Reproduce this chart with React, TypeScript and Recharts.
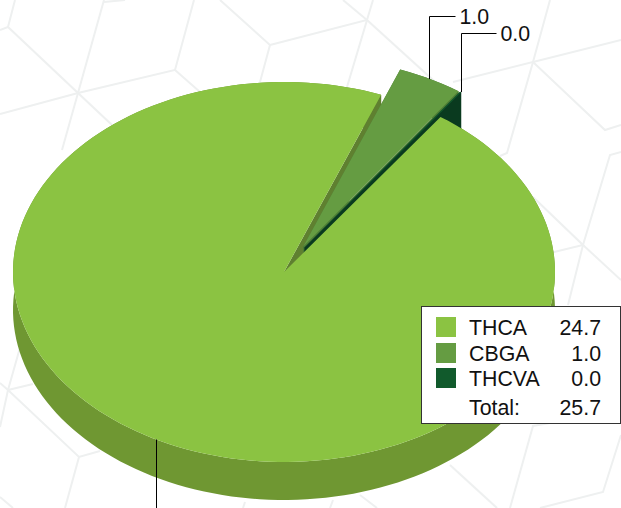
import { PieChart, Pie, Legend } from "recharts";

const categories = ["THCA", "CBGA", "THCVA"];
const values = [24.7, 1.0, 0.02];
const topColors = ["#8bc342", "#659c42", "#115a2c"];
const sideColors = ["#6f9732", "#4b7a35", "#0a3a1f"];
const cutColors = ["#5f8030", "#4b7a35", "#0a3a1f"];
const leaderTops = [560, 16, 33];
const leaderRuns = [0, 26, 35];
const leaderNudges = [0, -1, 0];

// slices run clockwise from the gap, so the big one is drawn last and sits on top
const drawOrder = [1, 2, 0];
const pieData = drawOrder.map((i) => ({
  name: categories[i],
  value: values[i],
  top: topColors[i],
  side: sideColors[i],
  cut: cutColors[i],
  leaderTop: leaderTops[i],
  leaderRun: leaderRuns[i],
  leaderNudge: leaderNudges[i],
}));

const total = values.reduce((a, b) => a + b, 0);

const WIDTH = 621;
const HEIGHT = 508;
const CX = 284;
const CY = 272;
const RX = 271;
const TILT = 0.701;
const DEPTH = 38;
const EXPLODE = 0.15;
const START = 69;
const EXPLODE_ANGLE = START - 7;
const EXPLODE_SPREAD = 0.35;
const FONT = "'Liberation Sans', Arial, sans-serif";
const FONT_SIZE = 21.33;

const RAD = Math.PI / 180;

// faint hex pattern behind the chart
const bgLines = [
  "M15 0L8 27L0 30",
  "M8 27L78 93L112 125",
  "M104 0L78 93L62 150",
  "M104 2L125 0",
  "M0 114L78 93L175 70L194 0",
  "M175 70L200 92",
  "M220 0L270 45L260 82",
  "M270 45L367 20L373 0",
  "M343 0L367 20L347 87",
  "M367 20L455 100",
  "M453 82L533 62L550 0",
  "M533 62L621 40",
  "M533 62L507 153L500 156",
  "M533 62L605 130L621 125",
  "M621 152L610 155L583 245L568 305",
  "M583 245L621 280",
  "M550 253L583 245L533 197",
  "M0 383L8 390L79 457L100 451",
  "M25 330L8 390L0 427",
  "M8 390L33 384",
  "M79 457L65 508",
  "M0 497L13 508",
  "M450 465L497 508",
  "M550 423L533 426L510 508",
  "M621 435L603 492L540 508",
  "M360 495L377 508",
  "M330 508L333 500",
  "M243 508L245 502",
];

function rimPoint(cx: number, cy: number, r: number, deg: number) {
  return { x: cx + r * Math.cos(deg * RAD), y: cy - r * TILT * Math.sin(deg * RAD) };
}

// the two small slices are pulled out nearly together, the big one stays put
function explodedCentre(props: any) {
  const { cx, cy, outerRadius, startAngle, endAngle } = props;
  if (Math.abs(endAngle - startAngle) > 180) return { x: cx, y: cy };
  const mid = (startAngle + endAngle) / 2;
  const angle = EXPLODE_ANGLE + (mid - EXPLODE_ANGLE) * EXPLODE_SPREAD;
  return {
    x: cx + outerRadius * EXPLODE * Math.cos(angle * RAD),
    y: cy - outerRadius * TILT * EXPLODE * Math.sin(angle * RAD),
  };
}

function arcPath(cx: number, cy: number, r: number, from: number, to: number) {
  const steps = Math.max(2, Math.ceil(Math.abs(to - from) / 2));
  let d = "";
  for (let i = 0; i <= steps; i++) {
    const p = rimPoint(cx, cy, r, from + ((to - from) * i) / steps);
    d += `${i === 0 ? "M" : "L"}${p.x.toFixed(2)} ${p.y.toFixed(2)}`;
  }
  return d;
}

function Walls(props: any) {
  const { outerRadius: r, startAngle, endAngle, payload } = props;
  const c = explodedCentre(props);
  const a = rimPoint(c.x, c.y, r, startAngle);
  const b = rimPoint(c.x, c.y, r, endAngle);
  const face = (p: { x: number; y: number }) =>
    `M${c.x} ${c.y}L${p.x} ${p.y}L${p.x} ${p.y + DEPTH}L${c.x} ${c.y + DEPTH}Z`;
  const rimTop = arcPath(c.x, c.y, r, startAngle, endAngle);
  const rimBottom = arcPath(c.x, c.y + DEPTH, r, endAngle, startAngle).replace("M", "L");
  return (
    <g>
      <path d={rimTop + rimBottom + "Z"} fill={payload.side} />
      <path d={face(a)} fill={payload.cut} />
      <path d={face(b)} fill={payload.cut} />
    </g>
  );
}

function TopFace(props: any) {
  const { outerRadius: r, startAngle, endAngle, payload } = props;
  const c = explodedCentre(props);
  return (
    <path
      d={`M${c.x} ${c.y}` + arcPath(c.x, c.y, r, startAngle, endAngle).replace("M", "L") + "Z"}
      fill={payload.top}
    />
  );
}

// the big slice's walls go under everything, its top goes over everything
function backShape(props: any) {
  return Math.abs(props.endAngle - props.startAngle) > 180 ? <Walls {...props} /> : <g />;
}

function frontShape(props: any) {
  if (Math.abs(props.endAngle - props.startAngle) > 180) return <TopFace {...props} />;
  return (
    <g>
      <Walls {...props} />
      <TopFace {...props} />
    </g>
  );
}

function renderLeader(props: any) {
  const { outerRadius: r, startAngle, endAngle, payload } = props;
  const c = explodedCentre(props);
  const p = rimPoint(c.x, c.y, r, (startAngle + endAngle) / 2);
  const run = payload.leaderRun;
  const x = Math.round(p.x) + payload.leaderNudge + 0.5;
  if (!run) {
    return <path d={`M${x} ${p.y}V${payload.leaderTop}`} stroke="#000" fill="none" />;
  }
  return (
    <g>
      <path
        d={`M${x} ${p.y}V${payload.leaderTop + 0.5}H${x + run}`}
        stroke="#000"
        fill="none"
      />
      <text
        x={x + run + 4}
        y={payload.leaderTop + 8}
        fontFamily={FONT}
        fontSize={FONT_SIZE}
        fill="#111"
      >
        {payload.value.toFixed(1)}
      </text>
    </g>
  );
}

function LegendBox() {
  const rowTops = [9, 35, 60, 89];
  const text = { position: "absolute" as const, lineHeight: "24px", color: "#111" };
  return (
    <div
      style={{
        position: "relative",
        width: 198,
        height: 116,
        background: "#fff",
        border: "1px solid #333",
        fontFamily: FONT,
        fontSize: FONT_SIZE,
      }}
    >
      {categories.map((name, i) => (
        <div key={name}>
          <div
            style={{
              position: "absolute",
              left: 14,
              top: rowTops[i] + 1,
              width: 20,
              height: 20,
              background: topColors[i],
            }}
          />
          <span style={{ ...text, left: 47, top: rowTops[i] }}>{name}</span>
          <span style={{ ...text, right: 19, top: rowTops[i] }}>{values[i].toFixed(1)}</span>
        </div>
      ))}
      <span style={{ ...text, left: 47, top: rowTops[3] }}>Total:</span>
      <span style={{ ...text, right: 19, top: rowTops[3] }}>{total.toFixed(1)}</span>
    </div>
  );
}

export default function App() {
  return (
    <div style={{ position: "absolute", left: 0, top: 0, width: WIDTH, height: HEIGHT, overflow: "hidden", background: "#fff" }}>
      <svg width={WIDTH} height={HEIGHT} style={{ position: "absolute", left: 0, top: 0 }}>
        {bgLines.map((d) => (
          <path key={d} d={d} stroke="#eef0f0" strokeWidth={2} fill="none" />
        ))}
      </svg>
      <PieChart width={WIDTH} height={HEIGHT} margin={{ top: 0, right: 0, bottom: 0, left: 0 }} style={{ position: "absolute", left: 0, top: 0 }}>
        <Pie
          data={pieData}
          dataKey="value"
          nameKey="name"
          cx={CX}
          cy={CY}
          innerRadius={0}
          outerRadius={RX}
          startAngle={START}
          endAngle={START - 360}
          stroke="none"
          legendType="none"
          shape={backShape}
          isAnimationActive={false}
        />
        <Pie
          data={pieData}
          dataKey="value"
          nameKey="name"
          cx={CX}
          cy={CY}
          innerRadius={0}
          outerRadius={RX}
          startAngle={START}
          endAngle={START - 360}
          stroke="none"
          legendType="none"
          shape={frontShape}
          label={renderLeader}
          labelLine={false}
          isAnimationActive={false}
        />
        <Legend
          content={() => <LegendBox />}
          wrapperStyle={{ position: "absolute", left: 421, top: 306, width: 200, bottom: "auto" }}
        />
      </PieChart>
    </div>
  );
}
